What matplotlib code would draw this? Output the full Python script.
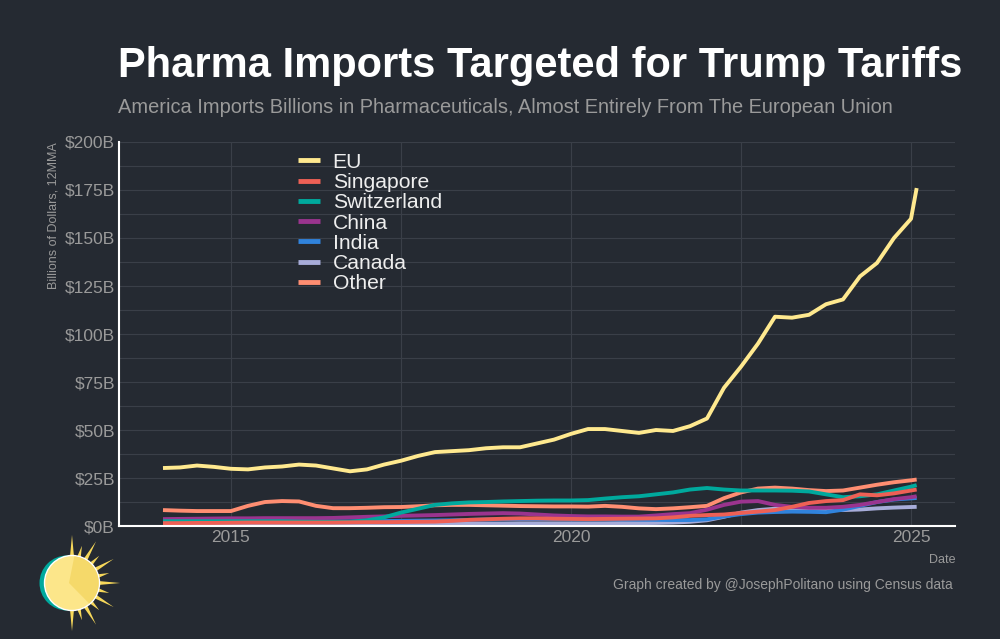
import numpy as np
import pandas as pd
import matplotlib
matplotlib.use("Agg")
import matplotlib.pyplot as plt
from matplotlib.patches import Polygon, Ellipse

# =========================================================
# DATA (billions of dollars, 12-month moving average)
# =========================================================

dates = pd.date_range("2014-01-01", "2025-01-01", freq="QS").append(
    pd.DatetimeIndex(["2025-02-01"]))

eu = [30.2, 30.5, 31.5, 30.8, 29.8, 29.5, 30.5, 31.0, 32.0, 31.5, 30.0, 28.5,
      29.5, 32.0, 34.0, 36.5, 38.5, 39.0, 39.5, 40.5, 41.0, 41.0, 43.0, 45.0,
      48.0, 50.5, 50.5, 49.5, 48.5, 50.0, 49.5, 52.0, 56.0, 72.0, 83.0, 95.0,
      109.0, 108.5, 110.0, 115.5, 118.0, 130.0, 137.0, 150.0, 160.0, 176.0]
singapore = [1.5, 1.5, 1.6, 1.6, 1.7, 1.8, 1.8, 1.8, 1.8, 1.8, 1.8, 1.9,
             2.0, 2.0, 2.1, 2.2, 2.3, 2.7, 3.2, 3.5, 3.8, 4.0, 4.0, 3.8,
             3.7, 3.6, 3.7, 3.8, 3.9, 4.0, 4.5, 5.3, 5.7, 6.0, 6.8, 7.5,
             8.3, 10.0, 12.0, 13.0, 13.5, 16.5, 16.0, 17.0, 18.5, 19.0]
switzerland = [2.5, 2.5, 2.5, 2.5, 2.5, 2.5, 2.5, 2.5, 2.3, 2.2, 2.2, 2.2,
               3.0, 4.5, 7.0, 9.0, 11.0, 11.8, 12.3, 12.5, 12.8, 13.0, 13.2, 13.3,
               13.3, 13.5, 14.3, 15.0, 15.5, 16.5, 17.5, 19.0, 19.8, 19.0, 18.5, 18.5,
               18.5, 18.4, 18.0, 16.5, 15.0, 15.5, 16.5, 18.5, 20.5, 21.3]
china = [3.6, 3.7, 3.8, 3.9, 4.0, 4.0, 4.1, 4.1, 4.1, 4.1, 4.2, 4.5,
         4.8, 5.0, 5.3, 5.5, 5.7, 6.0, 6.3, 6.5, 6.7, 6.5, 6.0, 5.5,
         5.2, 5.0, 5.0, 4.9, 4.9, 5.5, 6.2, 6.7, 8.5, 11.0, 12.7, 13.0,
         11.0, 10.0, 9.5, 9.5, 10.0, 11.0, 12.5, 14.0, 15.0, 15.5]
india = [1.8, 1.9, 2.0, 2.0, 2.1, 2.1, 2.2, 2.2, 2.3, 2.3, 2.4, 2.4,
         2.5, 2.6, 2.7, 2.8, 2.9, 3.0, 3.2, 3.4, 3.5, 3.6, 3.6, 3.6,
         3.5, 3.5, 3.5, 3.4, 3.3, 3.2, 3.1, 3.1, 3.5, 5.0, 6.2, 7.0,
         7.3, 7.5, 7.4, 7.2, 8.5, 10.5, 12.5, 13.8, 14.4, 14.6]
canada = [0.8, 0.8, 0.8, 0.8, 0.8, 0.8, 0.9, 0.9, 0.9, 0.9, 1.0, 1.0,
          1.0, 1.0, 1.1, 1.1, 1.2, 1.2, 1.3, 1.3, 1.3, 1.4, 1.4, 1.4,
          1.4, 1.4, 1.4, 1.5, 1.5, 1.6, 1.8, 2.2, 3.0, 4.8, 7.0, 8.3,
          9.0, 9.3, 9.0, 8.5, 8.3, 8.6, 9.2, 9.6, 9.9, 10.0]
other = [8.3, 8.0, 7.8, 7.8, 7.8, 10.5, 12.5, 13.0, 12.8, 10.5, 9.3, 9.3,
         9.5, 9.8, 9.9, 10.3, 10.8, 11.0, 11.0, 10.8, 10.6, 10.4, 10.3, 10.2,
         10.2, 10.1, 10.5, 10.0, 9.2, 8.8, 9.2, 9.8, 10.5, 14.5, 17.5, 19.5,
         20.0, 19.5, 18.7, 18.2, 18.5, 20.0, 21.5, 22.8, 23.8, 24.2]

labels = ["EU", "Singapore", "Switzerland", "China", "India", "Canada", "Other"]
series = [eu, singapore, switzerland, china, india, canada, other]
colors = ["#FFE98F", "#EE6055", "#00A99D", "#9A348E", "#3083DC", "#A7ACD9", "#FF8E72"]

x_years = dates.year + (dates.month - 1) / 12.0

# =========================================================
# STYLE
# =========================================================

BG = "#252A32"
GRID = "#3A3F48"
GREY = "#9A9A9A"

plt.rcParams["font.family"] = ["Liberation Sans", "DejaVu Sans"]

fig = plt.figure(figsize=(10, 6.39), dpi=100, facecolor=BG)
ax = fig.add_axes([0.119, 0.1768, 0.836, 0.601])
ax.set_facecolor(BG)

# =========================================================
# LINES
# =========================================================

for label, vals, col in reversed(list(zip(labels, series, colors))):
    ax.plot(x_years, vals, color=col, lw=2.8, label=label, solid_capstyle="butt")

ax.set_xlim(2013.353, 2025.647)
ax.set_ylim(0, 200)

ax.set_xticks([2015, 2020, 2025])
ax.set_xticklabels(["2015", "2020", "2025"])
ax.set_xticks([2017.5, 2022.5], minor=True)
ax.set_yticks(np.arange(0, 201, 25))
ax.set_yticklabels([f"${v}B" for v in range(0, 201, 25)])
ax.set_yticks(np.arange(12.5, 200, 25), minor=True)

ax.grid(True, which="both", color=GRID, lw=0.8)
ax.set_axisbelow(True)
ax.tick_params(which="both", length=0)
ax.tick_params(axis="both", labelsize=12.5, labelcolor=GREY, pad=3)

for s in ["top", "right"]:
    ax.spines[s].set_visible(False)
for s in ["left", "bottom"]:
    ax.spines[s].set_color("white")
    ax.spines[s].set_linewidth(1.5)

ax.set_ylabel("Billions of Dollars, 12MMA", fontsize=9, color=GREY, loc="top", labelpad=4)
ax.set_xlabel("Date", fontsize=9, color=GREY, loc="right", labelpad=6)

handles, labs = ax.get_legend_handles_labels()
leg = ax.legend(handles[::-1], labs[::-1], loc="upper left",
                bbox_to_anchor=(0.214, 0.972), frameon=False, fontsize=15.2,
                handlelength=1.05, handletextpad=0.6, labelspacing=0.06,
                borderaxespad=0, borderpad=0)
for t in leg.get_texts():
    t.set_color("#EEEEEE")
for h in leg.get_lines():
    h.set_linewidth(3.5)

# =========================================================
# TITLES
# =========================================================

fig.text(0.54, 0.897, "Pharma Imports Targeted for Trump Tariffs", ha="center",
         va="center", fontsize=30, fontweight="bold", color="white")
fig.text(0.118, 0.832, "America Imports Billions in Pharmaceuticals, Almost Entirely From The European Union",
         ha="left", va="center", fontsize=14.4, color=GREY)
fig.text(0.953, 0.085, "Graph created by @JosephPolitano using Census data",
         ha="right", va="center", fontsize=10, color=GREY)

# =========================================================
# SUN LOGO
# =========================================================

cx, cy, r = 0.072, 1 - 583 / 639, 0.0275
asp = 1000 / 639
logo = fig.add_axes([0.0, 0.0, 1.0, 1.0], facecolor="none")
logo.set_xlim(0, 1)
logo.set_ylim(0, 1)
logo.axis("off")

for k, ang in enumerate(np.linspace(-90, 90, 13)):
    a = np.deg2rad(ang)
    L = r * (1.75 if k % 2 == 0 else 1.4)
    w = np.deg2rad(5)
    pts = [(cx + r * 0.9 * np.cos(a - w), cy + r * 0.9 * np.sin(a - w) * asp),
           (cx + L * np.cos(a), cy + L * np.sin(a) * asp),
           (cx + r * 0.9 * np.cos(a + w), cy + r * 0.9 * np.sin(a + w) * asp)]
    logo.add_patch(Polygon(pts, closed=True, color="#F7D85A", lw=0))

logo.add_patch(Ellipse((cx - 0.005, cy), 2 * r, 2 * r * asp, color="#00A99D", lw=0))
logo.add_patch(Ellipse((cx, cy), 2 * r, 2 * r * asp, facecolor="#FCE68A",
                       edgecolor="white", lw=1.0))
t = np.linspace(np.deg2rad(-50), np.deg2rad(85), 40)
wedge = [(cx - 0.003, cy)] + [(cx + r * 0.97 * np.cos(a), cy + r * 0.97 * np.sin(a) * asp) for a in t]
logo.add_patch(Polygon(wedge, closed=True, color="#F5D96A", lw=0))

fig.savefig("out.png", dpi=100, facecolor=BG)
